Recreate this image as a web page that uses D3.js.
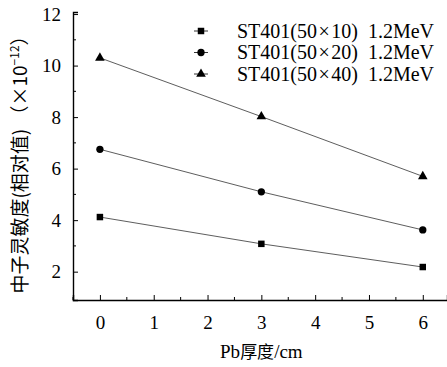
<!DOCTYPE html>
<html>
<head>
<meta charset="utf-8">
<script src="https://cdn.jsdelivr.net/npm/d3@7"></script>
<style>
  body { margin: 0; background: #fff; }
  text { font-family: "Liberation Serif", "Times New Roman", "DejaVu Serif", serif; fill: #000; }
  .cjk { font-family: "Noto Sans CJK SC", sans-serif; }
</style>
</head>
<body>
<div id="chart"></div>
<script>
// data
const thickness = [0, 3, 6];
const seriesNames = [
  ['ST401(50', '×', '10)  1.2MeV'],
  ['ST401(50', '×', '20)  1.2MeV'],
  ['ST401(50', '×', '40)  1.2MeV']
];
const sq10 = [4.12, 3.08, 2.18];
const ci20 = [6.75, 5.1, 3.62];
const tr40 = [10.3, 8.02, 5.7];
const xTicks = [0, 1, 2, 3, 4, 5, 6];
const yTicks = [2, 4, 6, 8, 10, 12];

const width = 447, height = 367;
const margin = {top: 12, right: 0, bottom: 67, left: 73};

const svg = d3.select('#chart').append('svg')
  .attr('width', width)
  .attr('height', height);

const x = d3.scaleLinear()
  .domain([-0.5, 6.45])
  .range([margin.left, width - margin.right]);

const y = d3.scaleLinear()
  .domain([0.9, 12.08])
  .range([height - margin.bottom, margin.top]);

const g = svg.append('g');

// x axis, ticks pointing inward
const xAxis = g.append('g')
  .attr('transform', `translate(0, ${y.range()[0]})`)
  .call(d3.axisBottom(x).tickValues(xTicks).tickSize(-5).tickPadding(16).tickFormat(d3.format('d')));
xAxis.append('g').selectAll('line')
  .data(d3.range(-0.5, 6.5, 1))
  .enter().append('line')
  .attr('x1', d => x(d)).attr('x2', d => x(d))
  .attr('y1', 0).attr('y2', -3)
  .attr('stroke', '#000');

// y axis
const yAxis = g.append('g')
  .attr('transform', `translate(${margin.left}, 0)`)
  .call(d3.axisLeft(y).tickValues(yTicks).tickSize(-5).tickPadding(12).tickFormat(d3.format('d')));
yAxis.append('g').selectAll('line')
  .data([3, 5, 7, 9, 11])
  .enter().append('line')
  .attr('y1', d => y(d)).attr('y2', d => y(d))
  .attr('x1', 0).attr('x2', 3)
  .attr('stroke', '#000');

[xAxis, yAxis].forEach(a => {
  a.attr('font-family', null).attr('font-size', null);
  a.select('.domain').attr('stroke-width', 1.4);
  a.selectAll('text')
    .style('font-family', '"Liberation Serif", "Times New Roman", serif')
    .style('font-size', '19px');
});

const series = [
  {name: seriesNames[0], values: sq10, symbol: d3.symbolSquare, size: 42},
  {name: seriesNames[1], values: ci20, symbol: d3.symbolCircle, size: 42},
  {name: seriesNames[2], values: tr40, symbol: d3.symbolTriangle, size: 40}
];

const line = d3.line()
  .x((d, i) => x(thickness[i]))
  .y(d => y(d));

series.forEach(s => {
  g.append('path')
    .datum(s.values)
    .attr('d', line)
    .attr('fill', 'none')
    .attr('stroke', '#333')
    .attr('stroke-width', 0.8);
  g.selectAll(null)
    .data(s.values)
    .enter().append('path')
    .attr('d', d3.symbol().type(s.symbol).size(s.size))
    .attr('transform', (d, i) => `translate(${x(thickness[i])}, ${y(d)})`)
    .attr('fill', '#000');
});

// legend
const legend = g.append('g').attr('transform', 'translate(194, 31)');
series.forEach((s, i) => {
  const row = legend.append('g').attr('transform', `translate(0, ${i * 21.5})`);
  row.append('line')
    .attr('x1', 0).attr('x2', 14)
    .attr('stroke', '#000').attr('stroke-width', 0.8);
  row.append('path')
    .attr('d', d3.symbol().type(s.symbol).size(s.size))
    .attr('transform', 'translate(7, 0)')
    .attr('fill', '#000');
  const t = row.append('text')
    .attr('x', 43)
    .attr('dy', '0.33em')
    .attr('font-size', 20)
    .attr('xml:space', 'preserve')
    .style('white-space', 'pre');
  t.append('tspan').text(s.name[0]);
  t.append('tspan').attr('dx', 1.5).text(s.name[1]);
  t.append('tspan').attr('dx', 1.5).text(s.name[2]);
});

// axis titles
const yt = svg.append('text')
  .attr('transform', 'translate(27, 160) rotate(-90)')
  .attr('text-anchor', 'middle')
  .attr('font-size', 19)
  .attr('xml:space', 'preserve')
  .style('white-space', 'pre');
yt.append('tspan').attr('class', 'cjk').text('中子灵敏度(相对值) （×10');
yt.append('tspan').attr('class', 'cjk').attr('font-size', 12).attr('dy', -8).text('−12');
yt.append('tspan').attr('class', 'cjk').attr('dy', 8).text('）');

const xt = svg.append('text')
  .attr('x', x(3))
  .attr('y', 358)
  .attr('text-anchor', 'middle')
  .attr('font-size', 19);
xt.append('tspan').text('Pb');
xt.append('tspan').attr('class', 'cjk').attr('font-size', 17).text('厚度');
xt.append('tspan').text('/cm');
</script>
</body>
</html>
